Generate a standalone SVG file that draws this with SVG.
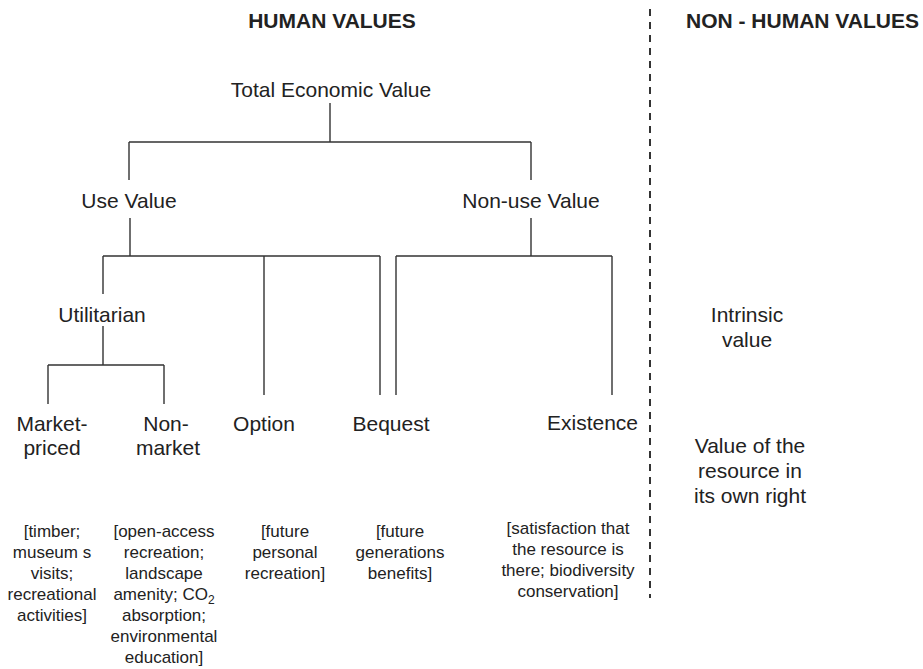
<svg xmlns="http://www.w3.org/2000/svg" width="923" height="669" viewBox="0 0 923 669">
  <style>
    text { font-family: "Liberation Sans", Arial, Helvetica, sans-serif; fill: #222; }
    .head { font-size: 21px; font-weight: bold; }
    .lbl { font-size: 21px; text-anchor: middle; }
    .lbl.end { text-anchor: end; }
    .desc { font-size: 17px; text-anchor: middle; }
    .link { fill: none; stroke: #333; stroke-width: 1.4; }
    .divider { fill: none; stroke: #333; stroke-width: 2; stroke-dasharray: 7 6; }
  </style>
  <rect width="923" height="669" fill="#fff"/>

  <!-- section headings and divider -->
  <g id="headings">
    <text class="head" x="332" y="28" text-anchor="middle">HUMAN VALUES</text>
    <text class="head" x="686" y="28">NON - HUMAN VALUES</text>
    <line class="divider" x1="650" y1="9" x2="650" y2="598"/>
  </g>

  <!-- tree connectors -->
  <g id="connectors">
    <path class="link" d="M330,103 V142 M129,142 H531 M129,142 V180 M531,142 V180"/>
    <path class="link" d="M130,218 V256 M103,256 H380 M103,256 V294 M264,256 V395 M380,256 V395"/>
    <path class="link" d="M531,218 V256 M396,256 H612 M396,256 V395 M612,256 V395"/>
    <path class="link" d="M103,326 V365 M48,365 H164 M48,365 V404 M164,365 V404"/>
  </g>

  <g id="total-economic-value">
    <text class="lbl" x="331" y="97">Total Economic Value</text>
  </g>
  <g id="use-value">
    <text class="lbl" x="129" y="208">Use Value</text>
  </g>
  <g id="non-use-value">
    <text class="lbl" x="531" y="208">Non-use Value</text>
  </g>
  <g id="utilitarian">
    <text class="lbl" x="102" y="322">Utilitarian</text>
  </g>

  <g id="market-priced">
    <text class="lbl" x="52" y="431">Market-</text>
    <text class="lbl" x="52" y="455">priced</text>
    <text class="desc" x="52" y="537">[timber;</text>
    <text class="desc" x="52" y="558">museum s</text>
    <text class="desc" x="52" y="579">visits;</text>
    <text class="desc" x="52" y="600">recreational</text>
    <text class="desc" x="52" y="621">activities]</text>
  </g>

  <g id="non-market">
    <text class="lbl" x="166" y="431">Non-</text>
    <text class="lbl" x="168" y="455">market</text>
    <text class="desc" x="164" y="537">[open-access</text>
    <text class="desc" x="164" y="558">recreation;</text>
    <text class="desc" x="164" y="579">landscape</text>
    <text class="desc" x="164" y="600">amenity; CO<tspan font-size="12" dy="4">2</tspan></text>
    <text class="desc" x="164" y="621">absorption;</text>
    <text class="desc" x="164" y="642">environmental</text>
    <text class="desc" x="164" y="663">education]</text>
  </g>

  <g id="option">
    <text class="lbl" x="264" y="431">Option</text>
    <text class="desc" x="285" y="537">[future</text>
    <text class="desc" x="285" y="558">personal</text>
    <text class="desc" x="285" y="579">recreation]</text>
  </g>

  <g id="bequest">
    <text class="lbl" x="391" y="431">Bequest</text>
    <text class="desc" x="400" y="537">[future</text>
    <text class="desc" x="400" y="558">generations</text>
    <text class="desc" x="400" y="579">benefits]</text>
  </g>

  <g id="existence">
    <text class="lbl end" x="638" y="430">Existence</text>
    <text class="desc" x="568" y="534">[satisfaction that</text>
    <text class="desc" x="568" y="555">the resource is</text>
    <text class="desc" x="568" y="576">there; biodiversity</text>
    <text class="desc" x="568" y="597">conservation]</text>
  </g>

  <g id="intrinsic-value">
    <text class="lbl" x="747" y="322">Intrinsic</text>
    <text class="lbl" x="747" y="347">value</text>
    <text class="lbl" x="750" y="453">Value of the</text>
    <text class="lbl" x="750" y="478">resource in</text>
    <text class="lbl" x="750" y="503">its own right</text>
  </g>
</svg>
